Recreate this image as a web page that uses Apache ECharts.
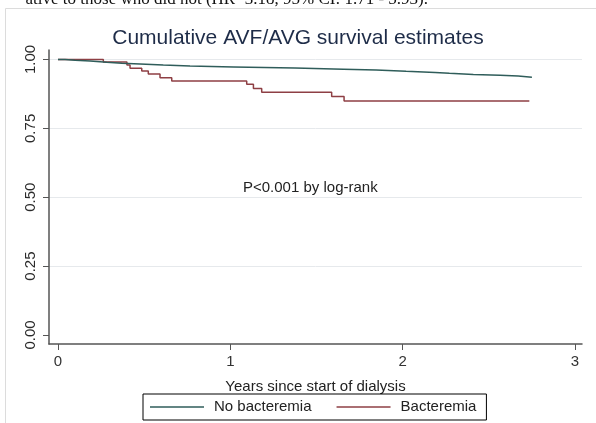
<!DOCTYPE html>
<html style="height: 100%">
<head>
	<meta charset="utf-8">
</head>
<body style="height: 100%; margin: 0; background: #fff">
<div id="container" style="width: 596px; height: 423px"></div>
<script type="text/javascript" src="https://cdn.jsdelivr.net/npm/echarts@6/dist/echarts.min.js"></script>
<script type="text/javascript">
    var dom = document.getElementById("container");
    var myChart = echarts.init(dom);

    // Kaplan-Meier steps (time in years, survival)
    var noBactTime = [0, 0.041, 0.099, 0.186, 0.283, 0.37, 0.476, 0.611, 0.766, 1.018, 1.375, 1.656, 1.846, 2.02, 2.188, 2.271, 2.41, 2.565, 2.67, 2.75];
    var noBactSurv = [1, 0.997, 0.995, 0.990, 0.986, 0.984, 0.980, 0.976, 0.973, 0.969, 0.965, 0.962, 0.957, 0.953, 0.950, 0.946, 0.943, 0.940, 0.936, 0.936];
    var bactTime = [0, 0.263, 0.40, 0.418, 0.486, 0.524, 0.592, 0.66, 1.095, 1.134, 1.182, 1.588, 1.66, 2.735];
    var bactSurv = [1, 0.991, 0.980, 0.968, 0.958, 0.947, 0.934, 0.922, 0.910, 0.895, 0.881, 0.866, 0.849, 0.849];

    var seriesNames = ["No bacteremia", "Bacteremia"];
    var xTicks = [0, 1, 2, 3];
    var yTicks = [0, 0.25, 0.5, 0.75, 1];
    var gridValues = [0.25, 0.5, 0.75, 1];

    var font = "'Liberation Sans', Arial, sans-serif";
    var colors = ['#2f5d5a', '#8e3f44'];

    function pairs(t, s) {
        var out = [];
        for (var i = 0; i < t.length; i++) {
            out.push([t[i], s[i]]);
        }
        return out;
    }

    var option = {
        animation: false,
        backgroundColor: '#fff',
        textStyle: { fontFamily: font },
        title: {
            text: 'Cumulative AVF/AVG survival estimates',
            left: 'center',
            top: 28,
            padding: 0,
            textStyle: { fontFamily: font, fontSize: 21, fontWeight: 'normal', color: '#1e2c48' }
        },
        legend: {
            data: seriesNames,
            icon: 'rect',
            left: 143,
            top: 394,
            padding: [4, 10, 4, 7],
            itemGap: 25,
            itemWidth: 54,
            itemHeight: 1.3,
            borderColor: '#000',
            borderWidth: 1,
            borderRadius: 0,
            textStyle: { fontFamily: font, fontSize: 15, color: '#222', padding: [0, 0, 0, 5], lineHeight: 18 }
        },
        grid: { left: 49, right: 14, top: 50, bottom: 79, containLabel: false },
        xAxis: {
            type: 'value',
            min: -0.0522,
            max: 3.0406,
            name: 'Years since start of dialysis',
            nameLocation: 'middle',
            nameGap: 35,
            nameTextStyle: { fontFamily: font, fontSize: 15, color: '#222' },
            axisLine: { onZero: false, lineStyle: { color: '#555', width: 1.5 } },
            axisTick: { show: true, length: 6, customValues: xTicks, lineStyle: { color: '#555' } },
            axisLabel: { customValues: xTicks, margin: 10, fontSize: 15, color: '#333', fontFamily: font },
            splitLine: { show: false }
        },
        yAxis: {
            type: 'value',
            min: -0.0327,
            max: 1.0345,
            axisLine: { show: true, onZero: false, lineStyle: { color: '#555', width: 1.5 } },
            axisTick: { show: true, length: 6, customValues: yTicks, lineStyle: { color: '#555' } },
            axisLabel: {
                customValues: yTicks,
                rotate: 90,
                margin: 11,
                fontSize: 15,
                color: '#2a2a2a',
                fontFamily: font,
                formatter: function (v) { return v.toFixed(2); }
            },
            splitLine: { show: false }
        },
        graphic: [
            {
                type: 'rect',
                shape: { x: 5.5, y: 8.5, width: 620, height: 440 },
                style: { fill: null, stroke: '#dcdcdc', lineWidth: 1 },
                z: -10
            },
            {
                type: 'text',
                style: {
                    text: 'ative to those who did not (HR=3.18, 95% CI: 1.71 - 5.93).',
                    x: 428, y: 8,
                    align: 'right',
                    verticalAlign: 'bottom',
                    font: '17px "Liberation Serif", "Times New Roman", serif',
                    fill: '#111'
                }
            },
            {
                type: 'text',
                style: {
                    text: 'P<0.001 by log-rank',
                    x: 243, y: 188,
                    verticalAlign: 'middle',
                    font: '15px ' + font,
                    fill: '#222'
                }
            }
        ],
        series: [
            {
                name: seriesNames[0],
                type: 'line',
                step: 'end',
                symbol: 'none',
                data: pairs(noBactTime, noBactSurv),
                lineStyle: { color: colors[0], width: 1.5 },
                itemStyle: { color: colors[0] },
                markLine: {
                    silent: true,
                    symbol: 'none',
                    label: { show: false },
                    lineStyle: { color: '#e6e9ec', width: 1, type: 'solid' },
                    data: gridValues.map(function (v) { return { yAxis: v }; }),
                    z: 0
                },
                z: 3
            },
            {
                name: seriesNames[1],
                type: 'line',
                step: 'end',
                symbol: 'none',
                data: pairs(bactTime, bactSurv),
                lineStyle: { color: colors[1], width: 1.5 },
                itemStyle: { color: colors[1] },
                z: 2
            }
        ]
    };

    myChart.setOption(option);
</script>
</body>
</html>
